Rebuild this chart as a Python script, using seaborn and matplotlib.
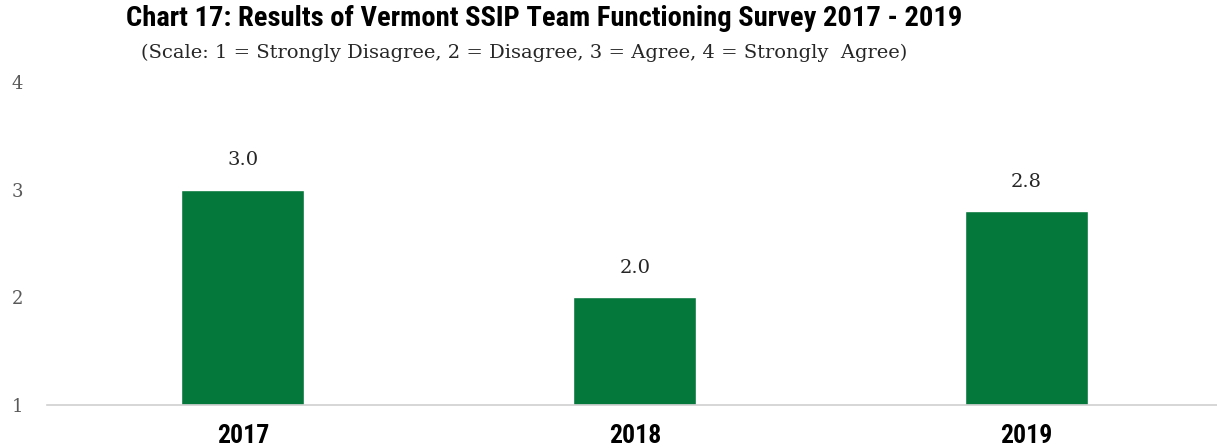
import matplotlib
matplotlib.use("Agg")
import matplotlib.pyplot as plt
from matplotlib import font_manager
import seaborn as sns
import pandas as pd

years = ["2017", "2018", "2019"]
scores = [3.0, 2.0, 2.8]
y_ticks = [1, 2, 3, 4]
title = "Chart 17: Results of Vermont SSIP Team Functioning Survey 2017 - 2019"
subtitle = "(Scale: 1 = Strongly Disagree, 2 = Disagree, 3 = Agree, 4 = Strongly  Agree)"

# find a condensed bold font file if one exists
cond_file = None
cands = []
for f in font_manager.fontManager.ttflist:
    fn = f.fname.lower()
    if ("condensed" in fn or "narrow" in fn or "cond" in fn) and ("bold" in fn or f.weight in ("bold", 700)):
        cands.append(f.fname)
pref = ["robotocondensed-bold", "dejavusanscondensed-bold.", "opensans_condensed-bold", "narrow-bold"]
for p in pref:
    for c in cands:
        if p in c.lower():
            cond_file = c
            break
    if cond_file:
        break
if cond_file is None and cands:
    cond_file = cands[0]
if cond_file:
    cond_fp = font_manager.FontProperties(fname=cond_file)
else:
    cond_fp = font_manager.FontProperties(family="Roboto", weight="bold")

serif = "DejaVu Serif"

sns.set_theme(style="white")
df = pd.DataFrame({"year": years, "score": scores})

fig = plt.figure(figsize=(12.17, 4.48), dpi=100)
ax = fig.add_axes([0.0386, 0.096, 0.966, 0.721])

base = 1
sns.barplot(data=df, x="year", y="score", color="#04773A", width=0.314,
            ax=ax, saturation=1)
for p in ax.patches:
    h = p.get_height()
    p.set_y(base)
    p.set_height(h - base)

ax.set_xlim(-0.5, 2.5)
ax.set_ylim(1, 4)
ax.set_yticks(y_ticks)
ax.set_yticklabels([str(t) for t in y_ticks], fontfamily=serif, fontsize=13, color="#595959")
ax.tick_params(axis="y", length=0, pad=17)
ax.tick_params(axis="x", length=0, pad=14)
ax.set_xticks(range(len(years)))
ax.set_xticklabels(years)
for lab in ax.get_xticklabels():
    lab.set_fontproperties(cond_fp)
    lab.set_fontsize(18.5)
    lab.set_color("black")
ax.set_xlabel("")
ax.set_ylabel("")
for s in ["top", "right", "left"]:
    ax.spines[s].set_visible(False)
ax.spines["bottom"].set_color("#D0D0D0")
ax.spines["bottom"].set_linewidth(1.2)

for i, v in enumerate(scores):
    ax.annotate(f"{v:.1f}", (i, v), xytext=(0, 21), textcoords="offset points",
                ha="center", va="center", fontfamily=serif, fontsize=14, color="#262626")

t = fig.text(544 / 1217, 1 - 18 / 448, title, ha="center", va="center",
             fontproperties=cond_fp, color="black")
t.set_fontsize(20.5)
fig.text(524 / 1217, 1 - 53 / 448, subtitle, ha="center", va="center",
         fontfamily=serif, fontsize=14, color="#262626")

fig.savefig("out.png", dpi=100)
